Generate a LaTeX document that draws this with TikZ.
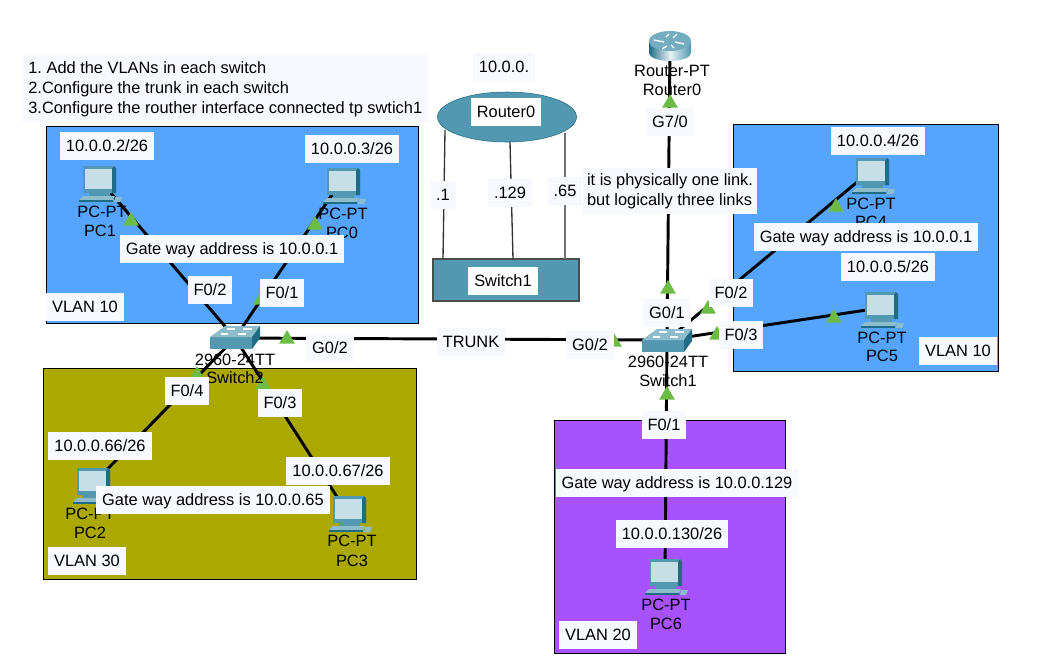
\documentclass[tikz,border=0pt]{standalone}
\usepackage{fontspec}
\setmainfont{Liberation Sans}
\usetikzlibrary{shapes.geometric}

\definecolor{vlanblue}{HTML}{55A5FF}
\definecolor{vlanolive}{HTML}{ABA900}
\definecolor{vlanviolet}{HTML}{A852FF}
\definecolor{devteal}{HTML}{5298B0}
\definecolor{devdark}{HTML}{1F6C86}
\definecolor{devlight}{HTML}{8DBCCB}
\definecolor{notefill}{HTML}{F8F8FF}
\definecolor{flaggreen}{HTML}{6CBB45}

\frenchspacing

\tikzset{
  every node/.style = {font = \fontsize{12.3}{14}\selectfont},
  vlan/.style = {draw = black, line width = 1pt, anchor = north west, inner sep = 0pt},
  blocknote/.style = {fill = notefill, align = left, inner ysep = 0pt,
                      font = \fontsize{12.3}{15}\selectfont},
  note/.style = {fill = notefill, minimum height = 21pt, inner xsep = 4.5pt, inner ysep = 0pt,
                 text height = 9pt, text depth = 1pt},
  plate/.style = {note, fill = white},
  devtext/.style = {inner sep = 0pt},
  port/.style = {coordinate},
  link/.style = {line width = 2.2pt, black},
  wire/.style = {line width = 1pt, black!80},
  flag/.style = {fill = flaggreen, regular polygon, regular polygon sides = 3,
                 minimum size = 13.5pt, inner sep = 0pt, yshift = -1.5pt},
  pcicon/.pic = {
    \fill[devteal] (-15,-18) -- (16,-18) -- (18,-16) -- (18,9) -- (-15,9) -- cycle;
    \fill[devdark] (16,-18) -- (18,-16) -- (18,9) -- (14,9) -- (14,-15) -- cycle;
    \fill[devlight!50!white] (-13,-15) rectangle (14,5);
    \fill[devteal] (-9,9) rectangle (12,12);
    \fill[devlight] (-15,12) -- (17,12) -- (15,16) -- (-19,16) -- cycle;
    \fill[devdark] (-19,16) rectangle (15,18);
    \fill[devlight] (17,13) -- (24,13) -- (22,18) -- (16,18) -- cycle;
  },
  switchicon/.pic = {
    \fill[devteal] (-25,-1) rectangle (17,11);
    \fill[devlight] (-25,-1) -- (-10,-12) -- (25,-12) -- (17,-1) -- cycle;
    \fill[devdark] (17,-1) -- (25,-12) -- (25,0) -- (17,11) -- cycle;
    \draw[white, line width = .8pt] (-14,-4) -- (-7,-4) (3,-4) -- (11,-4)
                                    (-8,-9) -- (0,-9) (8,-9) -- (17,-9);
  },
  routericon/.pic = {
    \shade[left color = devdark, right color = devteal, middle color = white!80!devlight]
      (-21,-5) -- (-21,7) arc [start angle = 180, end angle = 0, x radius = 21, y radius = 8]
      -- (21,-5) -- cycle;
    \fill[devteal!80!white] (0,-5) ellipse [x radius = 21, y radius = 10];
    \draw[white, line width = 1pt] (-16,-6) -- (-6,-4) (5,-4) -- (14,-2)
                                   (-1,-12) -- (-4,-9) (3,-8) -- (7,-12)
                                   (-3,0) -- (-8,3) (1,-1) -- (4,2);
  }
}

\begin{document}
\begin{tikzpicture}[x = .75pt, y = -.75pt]
  \useasboundingbox (0,0) rectangle (1058,658);

  % vlan areas
  \node[vlan, fill = vlanblue,   minimum width = 279pt,   minimum height = 147.75pt] (areaA) at (46,126)  {};
  \node[vlan, fill = vlanolive,  minimum width = 279.75pt, minimum height = 158.25pt] (areaB) at (43,368)  {};
  \node[vlan, fill = vlanviolet, minimum width = 173.25pt, minimum height = 174.75pt] (areaC) at (554,420) {};
  \node[vlan, fill = vlanblue,   minimum width = 198.75pt, minimum height = 185.25pt] (areaD) at (733,124) {};

  % device positions
  \node[port] (Router0) at (670,46)  {};
  \node[port] (Switch2) at (235,338) {};
  \node[port] (Switch1) at (667,340) {};
  \node[port] (PC0)     at (342,180) {};
  \node[port] (PC1)     at (98,178)  {};
  \node[port] (PC2)     at (90,487)  {};
  \node[port] (PC3)     at (348,514) {};
  \node[port] (PC4)     at (862,178) {};
  \node[port] (PC5)     at (880,308) {};
  \node[port] (PC6)     at (665,577) {};

  \path[link] (PC1)     edge (Switch2)
              (PC0)     edge (Switch2)
              (PC2)     edge (Switch2)
              (PC3)     edge (Switch2)
              (Switch2) edge (Switch1)
              (Router0) edge (Switch1)
              (PC4)     edge (Switch1)
              (PC5)     edge (Switch1)
              (PC6)     edge (Switch1);

  \foreach \mx/\my [count = \i] in {131/219, 315/223, 261/298, 287/337, 197/373, 263/383,
                                    670/101, 836/205, 668/287, 708/307, 614/340, 717/333,
                                    834/316, 667/393}
    \node[flag] (flag\i) at (\mx,\my) {};

  % device icons
  \pic at (98,184)  {pcicon};
  \pic at (342,186) {pcicon};
  \pic at (92,486)  {pcicon};
  \pic at (348,514) {pcicon};
  \pic at (871,176) {pcicon};
  \pic at (880,310) {pcicon};
  \pic at (664,577) {pcicon};
  \pic at (235,338) {switchicon};
  \pic at (667,341) {switchicon};
  \pic at (670,46)  {routericon};

  % device names
  \node[devtext] (nameA)  at (672,71)  {Router-PT};
  \node[devtext] (nameB)  at (672,90)  {Router0};
  \node[devtext] (nameC)  at (235,360) {2960-24TT};
  \node[devtext] (nameD)  at (235,378) {Switch2};
  \node[devtext] (nameE)  at (668,362) {2960-24TT};
  \node[devtext] (nameF)  at (668,381) {Switch1};
  \node[devtext] (nameG)  at (102,212) {PC-PT};
  \node[devtext] (nameH)  at (100,231) {PC1};
  \node[devtext] (nameI)  at (343,214) {PC-PT};
  \node[devtext] (nameJ)  at (342,233) {PC0};
  \node[devtext] (nameK)  at (90,514)  {PC-PT};
  \node[devtext] (nameL)  at (90,533)  {PC2};
  \node[devtext] (nameM)  at (352,541) {PC-PT};
  \node[devtext] (nameN)  at (352,561) {PC3};
  \node[devtext] (nameO)  at (871,204) {PC-PT};
  \node[devtext] (nameP)  at (871,222) {PC4};
  \node[devtext] (nameQ)  at (882,338) {PC-PT};
  \node[devtext] (nameR)  at (882,356) {PC5};
  \node[devtext] (nameS)  at (666,605) {PC-PT};
  \node[devtext] (nameT)  at (666,624) {PC6};

  % logical sketch
  \node[draw = devdark, fill = devteal, ellipse, inner sep = 0pt,
        minimum width = 104.25pt, minimum height = 37.5pt] (lRouter) at (507,117) {};
  \node[draw = black!70, line width = 1pt, fill = devteal, inner sep = 0pt,
        minimum width = 109.5pt, minimum height = 31.5pt] (lSwitch) at (506,280) {};
  \coordinate (lR1) at (445,130);
  \coordinate (lR2) at (510,142);
  \coordinate (lR3) at (565,133);
  \coordinate (lS1) at (443,259);
  \coordinate (lS2) at (513,259);
  \coordinate (lS3) at (565,259);
  \path[wire] (lR1) edge (lS1)
              (lR2) edge (lS2);
  \path[wire, line width = 1.5pt, black!55] (lR3) edge (lS3);
  \node[plate] (lRname) at (506,112) {Router0};
  \node[plate] (lSname) at (503,281) {Switch1};
  \node[note]  (lNet)   at (504,67)  {10.0.0.};
  \node[note]  (lA)     at (443,195) {.1};
  \node[note]  (lB)     at (510,193) {.129};
  \node[note]  (lC)     at (565,191) {.65};

  % task list
  \node[blocknote, anchor = north west, minimum width = 304.5pt, inner xsep = 0pt,
        minimum height = 50.25pt] (tasks) at (22,55)
        {1. Add the VLANs in each switch\\
         2.Configure the trunk in each switch\\
         3.Configure the routher interface connected tp swtich1};

  \node[blocknote, inner xsep = 3pt, minimum height = 34.5pt] (remark) at (670,191)
        {it is physically one link.\\ but logically three links};

  % addresses and ports
  \node[note] (ipA) at (107,146) {10.0.0.2/26};
  \node[note] (ipB) at (352,149) {10.0.0.3/26};
  \node[note] (ipC) at (100,446) {10.0.0.66/26};
  \node[note] (ipD) at (338,471) {10.0.0.67/26};
  \node[note] (ipE) at (878,141) {10.0.0.4/26};
  \node[note] (ipF) at (888,267) {10.0.0.5/26};
  \node[note] (ipG) at (672,534) {10.0.0.130/26};

  \node[note] (gwA) at (232,249) {Gate way address is 10.0.0.1};
  \node[note] (gwB) at (213,500) {Gate way address is 10.0.0.65};
  \node[note] (gwC) at (677,483) {Gate way address is 10.0.0.129};
  \node[note] (gwD) at (866,237) {Gate way address is 10.0.0.1};

  \node[note] (vlanA) at (85,307)  {VLAN 10};
  \node[note] (vlanB) at (87,561)  {VLAN 30};
  \node[note] (vlanC) at (598,635) {VLAN 20};
  \node[note] (vlanD) at (958,351) {VLAN 10};

  \node[note] (portA) at (210,290) {F0/2};
  \node[note] (portB) at (282,293) {F0/1};
  \node[note] (portC) at (330,348) {G0/2};
  \node[note] (portD) at (187,391) {F0/4};
  \node[note] (portE) at (280,403) {F0/3};
  \node[note] (portF) at (471,342) {TRUNK};
  \node[note] (portG) at (590,345) {G0/2};
  \node[note] (portH) at (667,313) {G0/1};
  \node[note] (portI) at (731,293) {F0/2};
  \node[note] (portJ) at (741,335) {F0/3};
  \node[note] (portK) at (664,425) {F0/1};
  \node[note] (portL) at (670,122) {G7/0};
\end{tikzpicture}
\end{document}
